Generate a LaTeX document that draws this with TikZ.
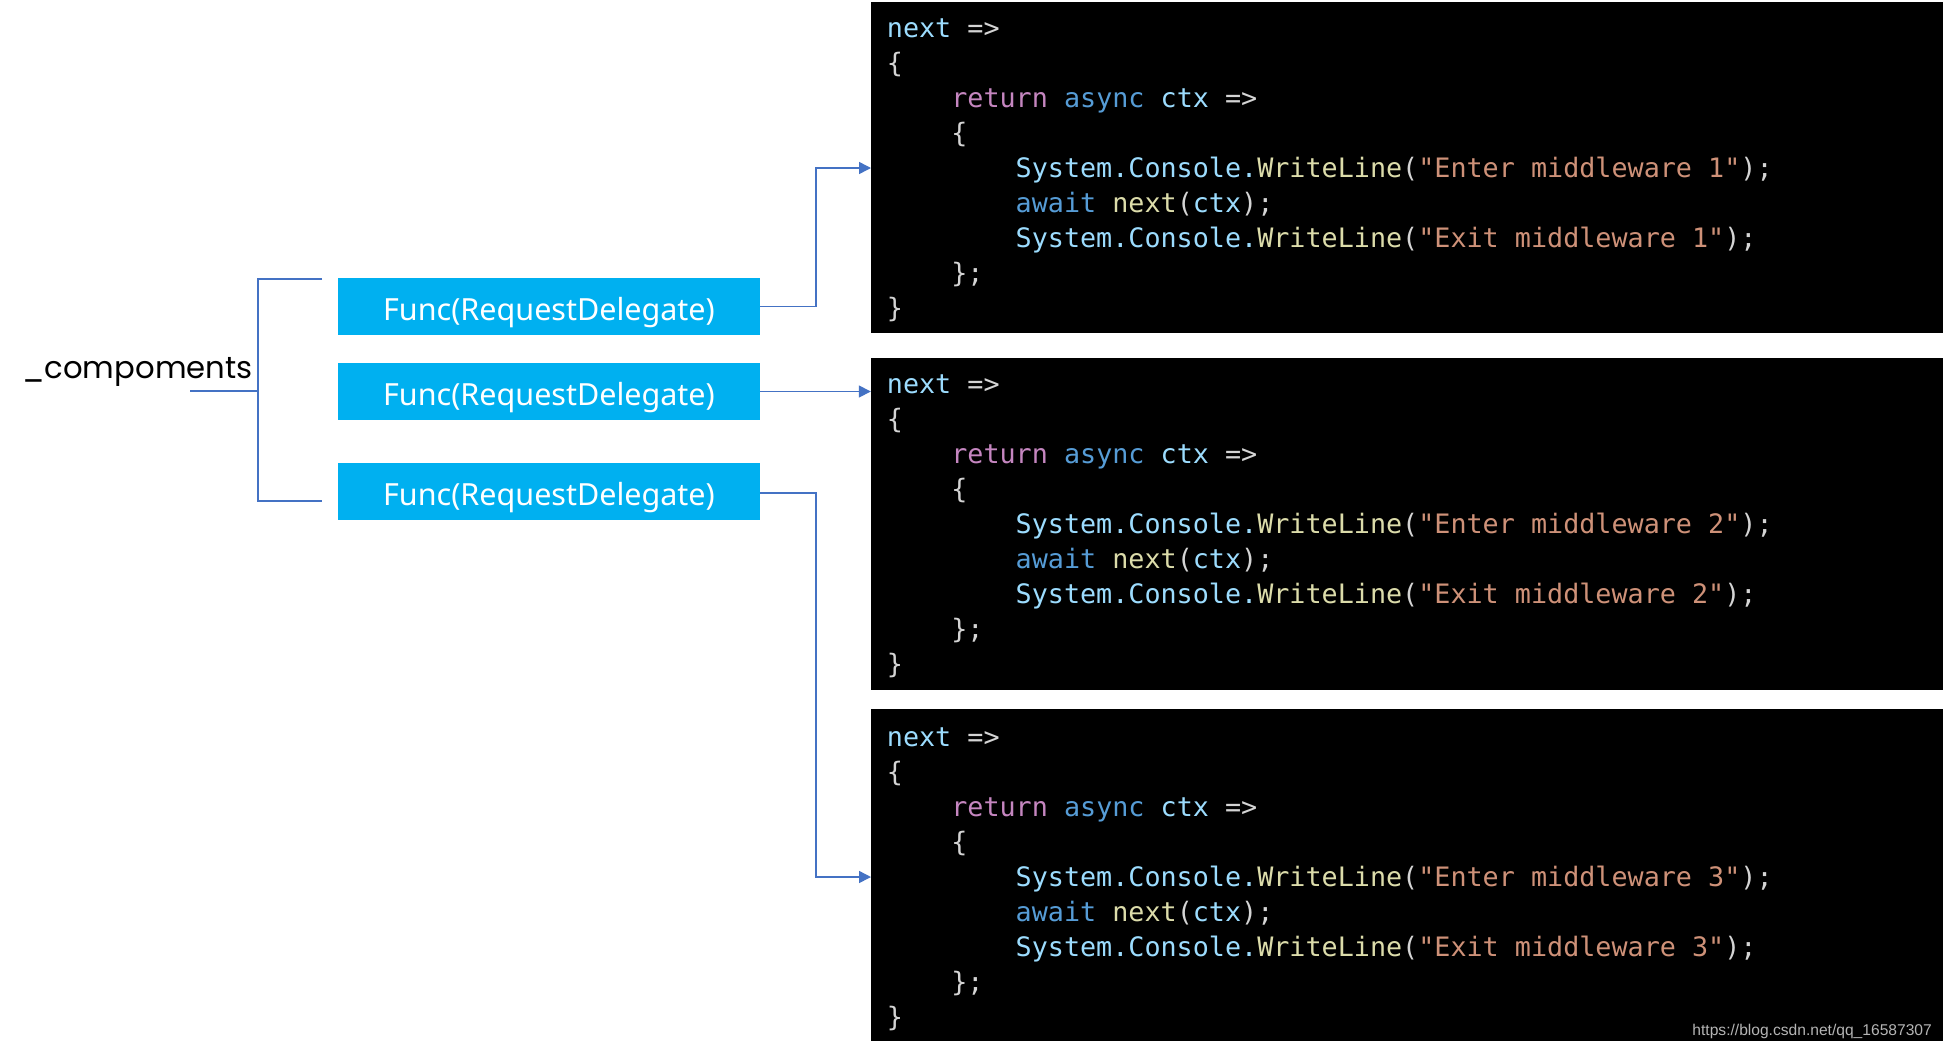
\documentclass[tikz,border=0pt]{standalone}
\usepackage{fontspec}
\setmainfont{Noto Sans}
\setmonofont{DejaVu Sans Mono}
\newfontfamily\wmfont{Liberation Sans}
\newfontfamily\cmpfont{Poppins}
\usetikzlibrary{arrows.meta}
\definecolor{cyanbox}{HTML}{00B0F0}
\definecolor{conncol}{HTML}{4472C4}
\definecolor{kN}{HTML}{9CDCFE}
\definecolor{kW}{HTML}{D4D4D4}
\definecolor{kP}{HTML}{C586C0}
\definecolor{kB}{HTML}{569CD6}
\definecolor{kY}{HTML}{DCDCAA}
\definecolor{kO}{HTML}{CE9178}
\definecolor{wmgray}{HTML}{B4B4B4}
\newcommand{\kn}[1]{\textcolor{kN}{#1}}
\newcommand{\kw}[1]{\textcolor{kW}{#1}}
\newcommand{\kp}[1]{\textcolor{kP}{#1}}
\newcommand{\kb}[1]{\textcolor{kB}{#1}}
\newcommand{\ky}[1]{\textcolor{kY}{#1}}
\newcommand{\ko}[1]{\textcolor{kO}{#1}}
\begin{document}
\begin{tikzpicture}[x=1pt,y=-1pt,
  funcbox/.style={fill=cyanbox, text=white, minimum width=422pt, minimum height=57pt, inner sep=0pt,
    text height=30pt, text depth=3pt, font=\fontsize{30.5}{36}\selectfont},
  codebox/.style={fill=black, minimum width=1072pt, inner sep=0pt},
  codeline/.style={anchor=base west, inner sep=0pt, font=\ttfamily\fontsize{26.75}{32}\selectfont},
  conn/.style={draw=conncol, line width=1.5pt, -{Triangle[length=12pt,width=12pt]}},
  brk/.style={draw=conncol, line width=1.5pt}
]
\useasboundingbox (0,0) rectangle (1943,1050);
\fill[white] (0,0) rectangle (1943,1050);

% code boxes
\node[codebox, minimum height=331pt] (c1) at (1407,167.5) {};
\node[codebox, minimum height=332pt] (c2) at (1407,524) {};
\node[codebox, minimum height=332pt] (c3) at (1407,875) {};

% code text
\foreach \k/\off in {1/0,2/356,3/709}{
  \node[codeline] (t\k-0) at (886.7, 37.5+\off) {\kn{next} \kw{=>}};
  \node[codeline] (t\k-1) at (886.7, 72.5+\off) {\kw{\{}};
  \node[codeline] (t\k-2) at (951.1, 107.5+\off) {\kp{return} \kb{async} \kn{ctx} \kw{=>}};
  \node[codeline] (t\k-3) at (951.1, 142.5+\off) {\kw{\{}};
  \node[codeline] (t\k-4) at (1015.5, 177.5+\off) {\kn{System.Console.}\ky{WriteLine}\kw{(}\ko{"Enter middleware \k"}\kw{);}};
  \node[codeline] (t\k-5) at (1015.5, 212.5+\off) {\kb{await} \ky{next}\kw{(}\kn{ctx}\kw{);}};
  \node[codeline] (t\k-6) at (1015.5, 247.5+\off) {\kn{System.Console.}\ky{WriteLine}\kw{(}\ko{"Exit middleware \k"}\kw{);}};
  \node[codeline] (t\k-7) at (951.1, 282.5+\off) {\kw{\};}};
  \node[codeline] (t\k-8) at (886.7, 317.5+\off) {\kw{\}}};
}

% func boxes
\node[funcbox] (f1) at (549,306.5) {Func(RequestDelegate)};
\node[funcbox] (f2) at (549,391.5) {Func(RequestDelegate)};
\node[funcbox] (f3) at (549,491.5) {Func(RequestDelegate)};

% label
\node[anchor=base west, inner sep=0pt, font=\cmpfont\fontsize{30.7}{36}\selectfont] (cmp) at (22,378.5) {\_compoments};

% bracket
\coordinate (bm) at (190,391);
\coordinate (bj) at (258,391);
\coordinate (bt) at (322,279);
\coordinate (bb) at (322,501);
\draw[brk] (bm) -- (bj);
\draw[brk] (bt) -| (bj) |- (bb);

% connectors
\coordinate (a1) at (871,168);
\coordinate (a3) at (871,877);
\draw[conn] (f1.east) -| (816,168) -- (a1);
\draw[conn] (f2.east) -- (f2.east -| c2.west);
\draw[conn] (f3.east |- 0,493) -| (816,877) -- (a3);

% watermark
\node[anchor=base east, inner sep=0pt, text=wmgray, font=\wmfont\fontsize{15.6}{18}\selectfont] (wm) at (1932,1035) {https://blog.csdn.net/qq\_16587307};
\end{tikzpicture}
\end{document}
